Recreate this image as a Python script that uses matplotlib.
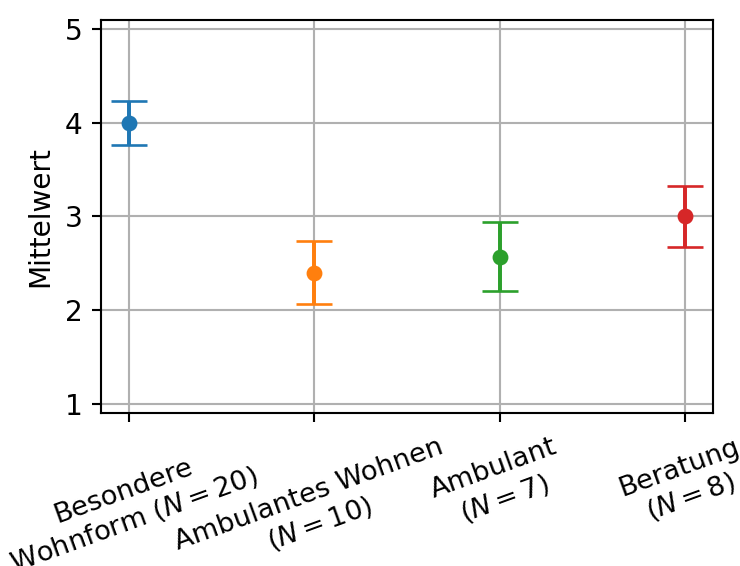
import matplotlib
matplotlib.use("Agg")
import matplotlib.pyplot as plt

groups = ["Besondere\nWohnform ($N = 20$)", "Ambulantes Wohnen\n($N = 10$)",
          "Ambulant\n($N = 7$)", "Beratung\n($N = 8$)"]
means = [4.0, 2.4, 2.571, 3.0]
errors = [0.235, 0.34, 0.365, 0.33]
colors = ["#1f77b4", "#ff7f0e", "#2ca02c", "#d62728"]

DPI = 190
FS = 10.6
fig = plt.figure(figsize=(740 / DPI, 566 / DPI), dpi=DPI)
ax = fig.add_axes([0.1365, 0.2703, 0.827, 0.6944])

for i, (m, e, c) in enumerate(zip(means, errors, colors)):
    ax.errorbar(i, m, yerr=e, fmt="o", color=c, markersize=5, capsize=7)

ax.set_xticks(range(len(groups)))
ax.set_xticklabels(groups, rotation=20, fontsize=10.4)
ax.tick_params(axis="x", pad=4.5)
ax.tick_params(axis="y", labelsize=FS)
ax.set_ylim(0.9, 5.1)
ax.set_yticks([1, 2, 3, 4, 5])
ax.set_ylabel("Mittelwert", fontsize=FS)
ax.grid(True)
ax.set_axisbelow(True)

fig.savefig("out.png", dpi=DPI)
